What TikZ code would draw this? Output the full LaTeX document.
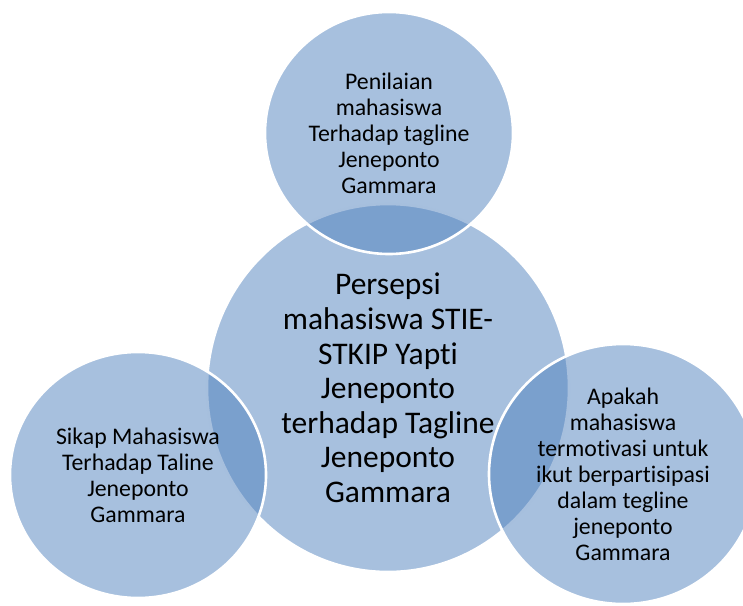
\documentclass[tikz,border=0pt]{standalone}
\usepackage{fontspec}
\setmainfont[Ligatures=NoCommon]{Carlito}
\usepackage{tikz}
\usetikzlibrary{shapes.geometric}
\definecolor{vennblue}{HTML}{4F81BD}
\begin{document}
\begin{tikzpicture}[x=1pt,y=-1pt,
venn/.style={ellipse,draw=white,line width=2.6pt,fill=vennblue,fill opacity=.5,text opacity=1,inner sep=0pt,align=center},
venntext/.style={font=\fontsize{23.8}{26}\selectfont},
venncore/.style={font=\fontsize{31.5}{34.6}\selectfont}]
\useasboundingbox (0,0) rectangle (743,605);
\node[venn,venncore,minimum width=362pt,minimum height=368pt] (persepsi) at (388,388) {Persepsi\\mahasiswa STIE-\\STKIP Yapti\\Jeneponto\\terhadap Tagline\\Jeneponto\\Gammara};
\node[venn,venntext,minimum width=248pt,minimum height=242pt] (penilaian) at (389,133) {Penilaian\\mahasiswa\\Terhadap tagline\\Jeneponto\\Gammara};
\node[venn,venntext,minimum width=256pt,minimum height=246pt] (sikap) at (138,475) {Sikap Mahasiswa\\Terhadap Taline\\Jeneponto\\Gammara};
\node[venn,venntext,minimum width=268pt,minimum height=260pt] (motivasi) at (623,474) {Apakah\\mahasiswa\\termotivasi untuk\\ikut berpartisipasi\\dalam tegline\\jeneponto\\Gammara};
\end{tikzpicture}
\end{document}
